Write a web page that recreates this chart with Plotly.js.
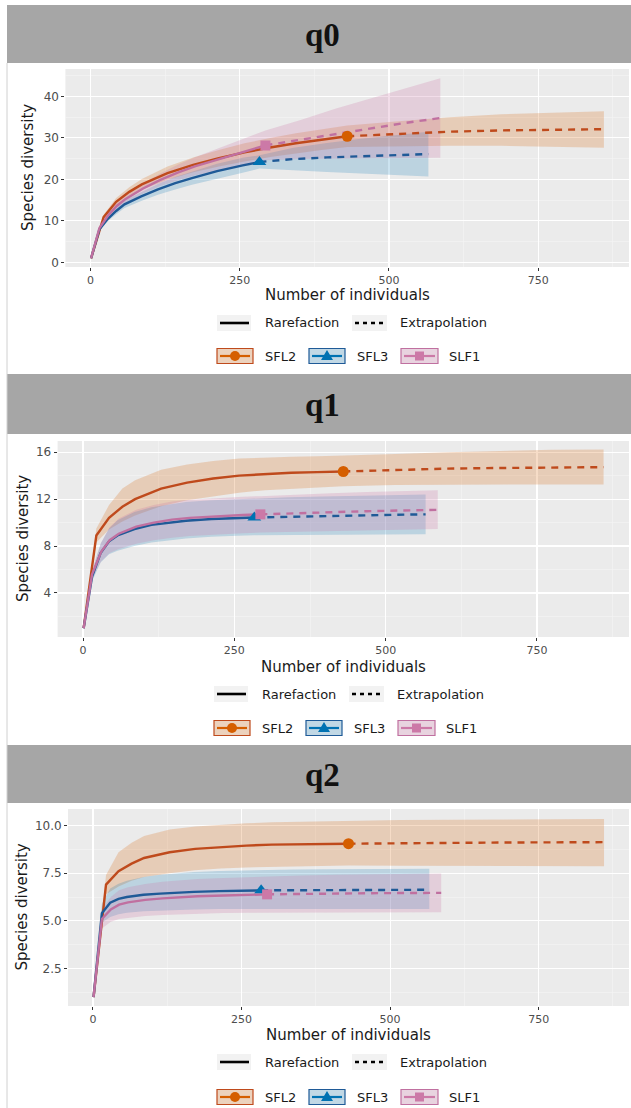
<!DOCTYPE html>
<html><head><meta charset="utf-8">
<script src="https://cdn.plot.ly/plotly-3.0.1.min.js"></script>
<style>html,body{margin:0;padding:0;background:#fff}#chart{width:631px;height:1108px}</style>
</head><body><div id="chart"></div>
<script>
// ---------------- DATA ----------------
const sites = ['SFL2', 'SFL3', 'SLF1'];
const orders = ['q0', 'q1', 'q2'];
const legendStyles = ['Rarefaction', 'Extrapolation'];
const xTickVals = [0, 250, 500, 750];

const nObs_SFL2 = 430;
const nObs_SFL3 = 283;
const nObs_SLF1 = 293;

const x_SFL2 = [1, 22, 43, 65, 86, 129, 172, 215, 258, 301, 344, 387, 430, 516, 602, 688, 774, 860];
const x_SFL3 = [1, 15, 29, 43, 57, 85, 113, 142, 170, 212, 255, 283, 340, 396, 453, 510, 566];
const x_SLF1 = [1, 15, 30, 44, 59, 88, 117, 147, 176, 220, 264, 293, 352, 410, 469, 527, 586];

// q0
const q0_SFL2_mean = [1, 10.9, 14.6, 17.0, 18.8, 21.5, 23.5, 25.1, 26.5, 27.7, 28.7, 29.6, 30.4, 31.0, 31.5, 31.8, 32.0, 32.1];
const q0_SFL2_lo   = [1, 10.3, 13.7, 15.9, 17.5, 19.9, 21.7, 23.1, 24.3, 25.4, 26.3, 27.1, 27.8, 28.0, 28.1, 28.1, 27.9, 27.6];
const q0_SFL2_hi   = [1, 11.5, 15.5, 18.1, 20.1, 23.1, 25.3, 27.1, 28.7, 30.0, 31.1, 32.1, 33.0, 34.0, 35.0, 35.7, 36.1, 36.4];
const q0_SFL3_mean = [1, 8.0, 10.5, 12.4, 14.0, 15.9, 17.6, 19.1, 20.3, 22.0, 23.4, 24.2, 24.9, 25.3, 25.6, 25.85, 26.1];
const q0_SFL3_lo   = [1, 7.6, 9.9, 11.6, 13.1, 14.8, 16.3, 17.6, 18.7, 20.2, 21.6, 22.6, 22.2, 21.8, 21.4, 21.0, 20.7];
const q0_SFL3_hi   = [1, 8.4, 11.1, 13.2, 14.9, 17.0, 18.9, 20.6, 21.9, 23.8, 25.2, 25.8, 27.6, 28.8, 29.8, 30.7, 31.5];
const q0_SLF1_mean = [1, 8.3, 11.4, 13.6, 15.3, 17.8, 19.9, 21.7, 23.2, 25.1, 26.9, 28.2, 29.6, 31.0, 32.3, 33.6, 34.8];
const q0_SLF1_lo   = [1, 8.0, 10.9, 12.9, 14.4, 16.6, 18.4, 19.8, 21.0, 22.4, 23.7, 24.6, 24.9, 25.0, 25.1, 25.2, 25.2];
const q0_SLF1_hi   = [1, 8.6, 11.9, 14.3, 16.2, 19.0, 21.4, 23.6, 25.4, 27.8, 30.1, 31.8, 34.3, 37.0, 39.5, 42.0, 44.4];

// q1
const q1_SFL2_mean = [1, 8.9, 10.4, 11.35, 12.0, 12.9, 13.4, 13.75, 14.0, 14.15, 14.25, 14.3, 14.35, 14.5, 14.6, 14.65, 14.7, 14.72];
const q1_SFL2_lo   = [1, 8.3, 9.4, 10.1, 10.6, 11.4, 11.9, 12.25, 12.55, 12.75, 12.9, 13.0, 13.1, 13.2, 13.25, 13.25, 13.25, 13.24];
const q1_SFL2_hi   = [1, 9.5, 11.5, 12.9, 13.6, 14.5, 14.95, 15.25, 15.45, 15.55, 15.6, 15.65, 15.7, 15.85, 16.0, 16.1, 16.2, 16.23];
const q1_SFL3_mean = [1, 5.4, 7.4, 8.4, 8.9, 9.45, 9.8, 10.0, 10.15, 10.3, 10.38, 10.43, 10.5, 10.57, 10.62, 10.66, 10.7];
const q1_SFL3_lo   = [1, 5.0, 6.6, 7.3, 7.6, 8.0, 8.3, 8.5, 8.65, 8.8, 8.88, 8.93, 8.95, 8.97, 8.98, 8.99, 9.0];
const q1_SFL3_hi   = [1, 5.8, 8.2, 9.5, 10.2, 10.9, 11.3, 11.55, 11.75, 11.9, 12.0, 12.05, 12.15, 12.22, 12.28, 12.34, 12.4];
const q1_SLF1_mean = [1, 5.6, 7.5, 8.5, 9.05, 9.65, 10.0, 10.25, 10.4, 10.55, 10.65, 10.7, 10.8, 10.9, 10.97, 11.03, 11.08];
const q1_SLF1_lo   = [1, 5.2, 6.7, 7.4, 7.75, 8.2, 8.5, 8.7, 8.85, 9.0, 9.1, 9.15, 9.2, 9.3, 9.35, 9.4, 9.45];
const q1_SLF1_hi   = [1, 6.0, 8.3, 9.6, 10.35, 11.1, 11.5, 11.8, 11.95, 12.1, 12.2, 12.25, 12.4, 12.5, 12.6, 12.7, 12.76];

// q2
const q2_SFL2_mean = [1, 6.9, 7.6, 8.0, 8.3, 8.6, 8.78, 8.88, 8.95, 9.0, 9.02, 9.04, 9.05, 9.08, 9.1, 9.11, 9.12, 9.13];
const q2_SFL2_lo   = [1, 6.4, 6.8, 7.1, 7.3, 7.5, 7.65, 7.75, 7.8, 7.85, 7.87, 7.88, 7.9, 7.89, 7.88, 7.87, 7.86, 7.86];
const q2_SFL2_hi   = [1, 7.4, 8.6, 9.1, 9.45, 9.8, 9.95, 10.05, 10.12, 10.17, 10.2, 10.23, 10.26, 10.29, 10.31, 10.33, 10.34, 10.35];
const q2_SFL3_mean = [1, 5.4, 5.95, 6.15, 6.25, 6.37, 6.43, 6.48, 6.52, 6.56, 6.59, 6.6, 6.61, 6.62, 6.63, 6.63, 6.63];
const q2_SFL3_lo   = [1, 4.9, 5.2, 5.35, 5.42, 5.5, 5.55, 5.58, 5.6, 5.62, 5.64, 5.65, 5.64, 5.63, 5.63, 5.62, 5.62];
const q2_SFL3_hi   = [1, 5.9, 6.7, 6.95, 7.1, 7.3, 7.42, 7.5, 7.56, 7.62, 7.66, 7.68, 7.7, 7.71, 7.72, 7.73, 7.74];
const q2_SLF1_mean = [1, 5.1, 5.6, 5.85, 5.97, 6.1, 6.18, 6.24, 6.29, 6.33, 6.37, 6.39, 6.42, 6.44, 6.45, 6.46, 6.47];
const q2_SLF1_lo   = [1, 4.6, 4.95, 5.1, 5.18, 5.26, 5.31, 5.35, 5.38, 5.41, 5.43, 5.44, 5.45, 5.45, 5.45, 5.45, 5.45];
const q2_SLF1_hi   = [1, 5.6, 6.25, 6.6, 6.76, 6.94, 7.05, 7.13, 7.2, 7.25, 7.3, 7.33, 7.38, 7.42, 7.45, 7.47, 7.48];

// ---------------- ASSEMBLY ----------------
const DATA = {
  q0: {SFL2: [q0_SFL2_mean, q0_SFL2_lo, q0_SFL2_hi], SFL3: [q0_SFL3_mean, q0_SFL3_lo, q0_SFL3_hi], SLF1: [q0_SLF1_mean, q0_SLF1_lo, q0_SLF1_hi]},
  q1: {SFL2: [q1_SFL2_mean, q1_SFL2_lo, q1_SFL2_hi], SFL3: [q1_SFL3_mean, q1_SFL3_lo, q1_SFL3_hi], SLF1: [q1_SLF1_mean, q1_SLF1_lo, q1_SLF1_hi]},
  q2: {SFL2: [q2_SFL2_mean, q2_SFL2_lo, q2_SFL2_hi], SFL3: [q2_SFL3_mean, q2_SFL3_lo, q2_SFL3_hi], SLF1: [q2_SLF1_mean, q2_SLF1_lo, q2_SLF1_hi]}
};
const XS = {SFL2: x_SFL2, SFL3: x_SFL3, SLF1: x_SLF1};
const NOBS = {SFL2: nObs_SFL2, SFL3: nObs_SFL3, SLF1: nObs_SLF1};

const STYLE = {
  SFL2: {line: '#BF4A1C', mark: '#D55E00', fill: 'rgba(213,94,0,0.22)', sym: 'circle', size: 11},
  SFL3: {line: '#1F5A97', mark: '#0072B2', fill: 'rgba(0,114,178,0.20)', sym: 'triangle-up', size: 12},
  SLF1: {line: '#C070A0', mark: '#CC79A7', fill: 'rgba(204,121,167,0.25)', sym: 'square', size: 10}
};

const W = 631, H = 1108;
const P = v => v / W;
const Q = v => 1 - v / H;

const PANELS = [
  {hdr: [5, 63],    plot: [65.4, 629, 69, 267],   yr: [-1.1, 46.6], dtick: 10,  minor: 5,    fmt: '',    xt: 295,  ytx: 28, l1: 323,  l2: 356,  dx: 0},
  {hdr: [374, 434], plot: [57.6, 629, 441, 637],  yr: [0.25, 16.95], dtick: 4,  minor: 2,    fmt: '',    xt: 667,  ytx: 23, l1: 694,  l2: 728,  dx: -3},
  {hdr: [745, 803], plot: [68, 629, 809, 1006],   yr: [0.53, 10.87], dtick: 2.5, minor: 1.25, fmt: '.1f', xt: 1035, ytx: 21, l1: 1062, l2: 1097, dx: 0}
];

const traces = [];
const layout = {
  width: W, height: H, margin: {l: 0, r: 0, t: 0, b: 0},
  paper_bgcolor: '#ffffff', plot_bgcolor: '#EBEBEB',
  showlegend: false, shapes: [], annotations: [],
  font: {family: 'DejaVu Sans', color: '#1a1a1a'}
};

PANELS.forEach((pn, i) => {
  const q = orders[i];
  const suf = i === 0 ? '' : String(i + 1);
  const xa = 'x' + suf, ya = 'y' + suf;
  // ribbons
  sites.forEach(s => {
    const xs = XS[s]; const [m, lo, hi] = DATA[q][s];
    traces.push({x: xs.concat(xs.slice().reverse()), y: hi.concat(lo.slice().reverse()),
      type: 'scatter', mode: 'lines', fill: 'toself', fillcolor: STYLE[s].fill,
      line: {width: 0, color: 'rgba(0,0,0,0)'}, hoverinfo: 'skip', xaxis: xa, yaxis: ya});
  });
  // lines
  sites.forEach(s => {
    const xs = XS[s]; const m = DATA[q][s][0]; const n = NOBS[s];
    const rx = [], ry = [], ex = [], ey = [];
    xs.forEach((x, k) => { if (x <= n) { rx.push(x); ry.push(m[k]); } if (x >= n) { ex.push(x); ey.push(m[k]); } });
    traces.push({x: rx, y: ry, type: 'scatter', mode: 'lines', line: {color: STYLE[s].line, width: 2.4}, xaxis: xa, yaxis: ya, hoverinfo: 'skip'});
    traces.push({x: ex, y: ey, type: 'scatter', mode: 'lines', line: {color: STYLE[s].line, width: 2.4, dash: '7px,6px'}, xaxis: xa, yaxis: ya, hoverinfo: 'skip'});
  });
  // observed points
  sites.forEach(s => {
    const xs = XS[s]; const m = DATA[q][s][0]; const n = NOBS[s];
    const k = xs.indexOf(n);
    traces.push({x: [xs[k]], y: [m[k]], type: 'scatter', mode: 'markers',
      marker: {symbol: STYLE[s].sym, size: STYLE[s].size, color: STYLE[s].mark}, xaxis: xa, yaxis: ya, hoverinfo: 'skip'});
  });

  const [L, R, T, B] = pn.plot;
  layout['xaxis' + suf] = {
    domain: [P(L), P(R)], range: [-42, 902], anchor: ya,
    tickvals: xTickVals, ticktext: xTickVals.map(String),
    ticks: 'outside', ticklen: 3, tickcolor: '#333', tickwidth: 1,
    tickfont: {family: 'DejaVu Sans', size: 11, color: '#4D4D4D'},
    showgrid: true, gridcolor: '#FFFFFF', gridwidth: 1.1, zeroline: false, showline: false,
    minor: {dtick: 125, tick0: 0, showgrid: true, gridcolor: '#F5F5F5', gridwidth: 0.6, ticks: ''}
  };
  layout['yaxis' + suf] = {
    domain: [Q(B), Q(T)], range: pn.yr, anchor: xa,
    dtick: pn.dtick, tick0: 0, tickformat: pn.fmt,
    ticks: 'outside', ticklen: 3, tickcolor: '#333', tickwidth: 1,
    tickfont: {family: 'DejaVu Sans', size: 12, color: '#4D4D4D'},
    showgrid: true, gridcolor: '#FFFFFF', gridwidth: 1.1, zeroline: false, showline: false,
    minor: {dtick: pn.minor, tick0: 0, showgrid: true, gridcolor: '#F5F5F5', gridwidth: 0.6, ticks: ''}
  };

  // header strip
  layout.shapes.push({type: 'rect', xref: 'paper', yref: 'paper', x0: P(7), x1: P(631), y0: Q(pn.hdr[1]), y1: Q(pn.hdr[0]),
    fillcolor: '#A6A6A6', line: {width: 0}, layer: 'below'});
  layout.annotations.push({xref: 'paper', yref: 'paper', x: P(322), y: Q((pn.hdr[0] + pn.hdr[1]) / 2 + 1), text: '<b>' + q + '</b>',
    showarrow: false, xanchor: 'center', yanchor: 'middle', font: {family: 'Liberation Serif', size: 33, color: '#111'}});

  // axis titles
  layout.annotations.push({xref: 'paper', yref: 'paper', x: P((L + R) / 2), y: Q(pn.xt), text: 'Number of individuals',
    showarrow: false, xanchor: 'center', yanchor: 'middle', font: {family: 'DejaVu Sans', size: 15, color: '#1a1a1a'}});
  layout.annotations.push({xref: 'paper', yref: 'paper', x: P(pn.ytx), y: Q((T + B) / 2), text: 'Species diversity', textangle: -90,
    showarrow: false, xanchor: 'center', yanchor: 'middle', font: {family: 'DejaVu Sans', size: 15, color: '#1a1a1a'}});

  // legend row 1: line types
  const dx = pn.dx, y1 = pn.l1;
  [[218, 250, 263, 'solid', legendStyles[0]], [353, 386, 398, '4px,4px', legendStyles[1]]].forEach(([a, b, t, dash, lab]) => {
    layout.shapes.push({type: 'rect', xref: 'paper', yref: 'paper', x0: P(a + dx - 1), x1: P(b + dx + 1), y0: Q(y1 + 8), y1: Q(y1 - 8),
      fillcolor: '#F2F2F2', line: {width: 0}});
    layout.shapes.push({type: 'line', xref: 'paper', yref: 'paper', x0: P(a + dx + 2), x1: P(b + dx - 1), y0: Q(y1), y1: Q(y1),
      line: {color: '#000', width: 2.6, dash: dash}});
    layout.annotations.push({xref: 'paper', yref: 'paper', x: P(t + dx), y: Q(y1), text: lab, showarrow: false,
      xanchor: 'left', yanchor: 'middle', font: {family: 'DejaVu Sans', size: 13, color: '#1a1a1a'}});
  });

  // legend row 2: sites
  const y2 = pn.l2;
  [[217, 253, 263], [309, 345, 355], [401, 438, 447]].forEach(([a, b, t], j) => {
    const s = sites[j], st = STYLE[s];
    const cx = (a + b) / 2 + dx;
    layout.shapes.push({type: 'rect', xref: 'paper', yref: 'paper', x0: P(a + dx), x1: P(b + dx), y0: Q(y2 + 7.5), y1: Q(y2 - 7.5),
      fillcolor: '#F2F2F2', line: {width: 0}});
    layout.shapes.push({type: 'rect', xref: 'paper', yref: 'paper', x0: P(a + dx), x1: P(b + dx), y0: Q(y2 + 7.5), y1: Q(y2 - 7.5),
      fillcolor: st.fill, line: {color: st.line, width: 1.2}});
    layout.shapes.push({type: 'line', xref: 'paper', yref: 'paper', x0: P(a + dx + 3), x1: P(b + dx - 3), y0: Q(y2), y1: Q(y2),
      line: {color: st.mark, width: 2.2}});
    if (st.sym === 'circle') {
      layout.shapes.push({type: 'circle', xref: 'paper', yref: 'paper', x0: P(cx - 5), x1: P(cx + 5), y0: Q(y2 + 5), y1: Q(y2 - 5),
        fillcolor: st.mark, line: {width: 0}});
    } else if (st.sym === 'triangle-up') {
      layout.shapes.push({type: 'path', xref: 'paper', yref: 'paper',
        path: `M ${P(cx - 6)} ${Q(y2 + 4)} L ${P(cx + 6)} ${Q(y2 + 4)} L ${P(cx)} ${Q(y2 - 6)} Z`,
        fillcolor: st.mark, line: {width: 0}});
    } else {
      layout.shapes.push({type: 'rect', xref: 'paper', yref: 'paper', x0: P(cx - 4.5), x1: P(cx + 4.5), y0: Q(y2 + 4.5), y1: Q(y2 - 4.5),
        fillcolor: st.mark, line: {width: 0}});
    }
    layout.annotations.push({xref: 'paper', yref: 'paper', x: P(t + dx), y: Q(y2), text: s, showarrow: false,
      xanchor: 'left', yanchor: 'middle', font: {family: 'DejaVu Sans', size: 13, color: '#1a1a1a'}});
  });
});

// thin left border of the composed figure
layout.shapes.push({type: 'line', xref: 'paper', yref: 'paper', x0: P(7), x1: P(7), y0: Q(1108), y1: Q(63),
  line: {color: '#D0D0D0', width: 1}, layer: 'below'});

Plotly.newPlot('chart', traces, layout, {staticPlot: true, displayModeBar: false});
</script></body></html>
